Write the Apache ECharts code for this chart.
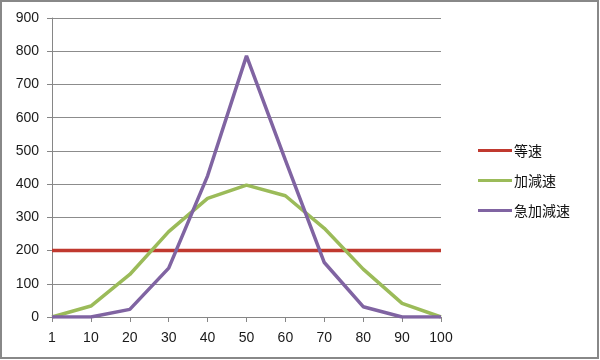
<!DOCTYPE html>
<html>
<head>
<meta charset="utf-8">
<script src="https://cdn.jsdelivr.net/npm/echarts@6/dist/echarts.min.js"></script>
<style>
html,body{margin:0;padding:0;background:#fff;}
#c{width:600px;height:360px;}
</style>
</head>
<body>
<div id="c"></div>
<script>
const categories = ['1','10','20','30','40','50','60','70','80','90','100'];
const seriesNames = ['等速','加減速','急加減速'];
const constantSpeed = [200,200,200,200,200,200,200,200,200,200,200];
const accelDecel = [0,33,128,257,357,397,365,267,144,41,0];
const sharpAccelDecel = [0,0,23,147,425,786,472,164,31,0,0];
const yTicks = [0,100,200,300,400,500,600,700,800,900];

const colors = ['#C0392F','#9BBB59','#8064A2'];
const font = '"Liberation Sans", "Noto Sans CJK JP", sans-serif';

const chart = echarts.init(document.getElementById('c'), null, {renderer:'canvas'});
const dataSets = [constantSpeed, accelDecel, sharpAccelDecel];
chart.setOption({
  animation: false,
  backgroundColor: '#fff',
  color: colors,
  grid: {left:52, right:159, top:18, bottom:43},
  xAxis: {
    type: 'category',
    data: categories,
    boundaryGap: false,
    axisLine: {lineStyle:{color:'#868686', width:1}},
    axisTick: {show:true, length:5, lineStyle:{color:'#868686'}},
    axisLabel: {color:'#1a1a1a', fontSize:14, margin:14, fontFamily:font}
  },
  yAxis: {
    type: 'value',
    min: yTicks[0],
    max: yTicks[yTicks.length-1],
    interval: 100,
    axisLine: {show:true, lineStyle:{color:'#868686', width:1}},
    axisTick: {show:true, length:5, lineStyle:{color:'#868686'}},
    splitLine: {lineStyle:{color:'#8c8c8c', width:1}},
    axisLabel: {color:'#1a1a1a', fontSize:14, margin:13, fontFamily:font}
  },
  legend: {
    orient: 'vertical',
    left: 478,
    top: 141,
    padding: 0,
    itemWidth: 34,
    itemHeight: 3,
    itemGap: 11,
    icon: 'rect',
    data: seriesNames,
    textStyle: {color:'#111', fontSize:14, lineHeight:19, fontFamily:'"Noto Sans CJK JP", sans-serif', padding:[0,0,0,-3]}
  },
  graphic: [{
    type:'rect', silent:true,
    shape:{x:1, y:1, width:597, height:357},
    style:{fill:'none', stroke:'#888', lineWidth:2}
  }],
  series: seriesNames.map((n,i)=>({
    name: n,
    type: 'line',
    data: dataSets[i],
    symbol: 'none',
    lineStyle: {width:3.5, color: colors[i]},
    itemStyle: {color: colors[i]},
    z: 2 + i
  }))
});
</script>
</body>
</html>
